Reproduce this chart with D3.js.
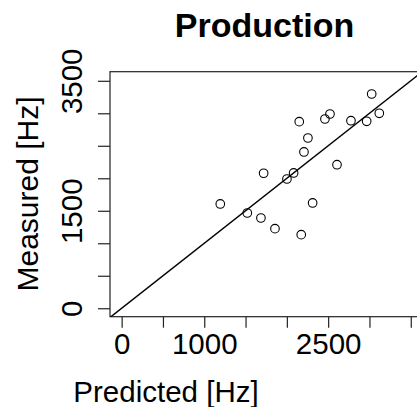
<!DOCTYPE html>
<html>
<head>
<meta charset="utf-8">
<script src="https://cdn.jsdelivr.net/npm/d3@7"></script>
<style>
  body { margin: 0; background: #fff; }
  svg { display: block; font-family: "Liberation Sans", Arial, sans-serif; }
</style>
</head>
<body>
<svg width="417" height="407"></svg>
<script>
"use strict";

// predicted vs measured, Hz
var predicted = [3027, 3119, 2522, 2461, 2150, 2776, 2966, 2255, 2207, 2607,
                 1719, 2082, 2001, 1194, 2312, 1521, 1686, 1856, 2174];
var measured  = [3297, 3000, 2989, 2912, 2871, 2886, 2877, 2620, 2405, 2209,
                 2077, 2082, 1989, 1605, 1620, 1466, 1389, 1225, 1132];

var xTicks = [0, 500, 1000, 1500, 2000, 2500, 3000, 3500];
var xTickLabels = ["0", "", "1000", "", "", "2500", "", ""];
var yTicks = [0, 500, 1000, 1500, 2000, 2500, 3000, 3500];
var yTickLabels = ["0", "", "", "1500", "", "", "", "3500"];

var svg = d3.select("svg");

var x = d3.scaleLinear().domain([-141, 3630]).range([110, 421.5]);
var y = d3.scaleLinear().domain([-130, 3640]).range([316.7, 71.7]);

// box
svg.append("rect")
    .attr("x", x(-141)).attr("y", y(3640))
    .attr("width", x(3630) - x(-141)).attr("height", y(-130) - y(3640))
    .attr("fill", "none").attr("stroke", "#222").attr("stroke-width", 1.2);

// x axis
var xAxis = d3.axisBottom(x).tickValues(xTicks).tickSize(11).tickPadding(5)
    .tickFormat(function(d, i){ return xTickLabels[i]; });
var gx = svg.append("g").attr("transform", "translate(0," + y(-130) + ")").call(xAxis);
gx.select(".domain").remove();
gx.selectAll("line").attr("stroke", "#222").attr("stroke-width", 1.2);
gx.selectAll("text").attr("font-size", 29.5).attr("fill", "#000")
    .attr("font-family", "Liberation Sans, Arial, sans-serif");

// y axis
var yAxis = d3.axisLeft(y).tickValues(yTicks).tickSize(12)
    .tickFormat(function(d, i){ return yTickLabels[i]; });
var gy = svg.append("g").attr("transform", "translate(" + x(-141) + ",0)").call(yAxis);
gy.select(".domain").remove();
gy.selectAll("line").attr("stroke", "#222").attr("stroke-width", 1.2);
gy.selectAll("text")
    .attr("font-size", 29.5).attr("fill", "#000")
    .attr("font-family", "Liberation Sans, Arial, sans-serif")
    .attr("x", null).attr("dy", null)
    .attr("text-anchor", "middle")
    .attr("transform", "translate(-28,0) rotate(-90)");

// y = x reference line
svg.append("clipPath").attr("id", "clip").append("rect")
    .attr("x", x(-141)).attr("y", y(3640))
    .attr("width", x(3630) - x(-141)).attr("height", y(-130) - y(3640));
svg.append("line")
    .attr("clip-path", "url(#clip)")
    .attr("x1", x(-141)).attr("y1", y(-141))
    .attr("x2", x(3700)).attr("y2", y(3700))
    .attr("stroke", "#000").attr("stroke-width", 1.5);

// points
svg.selectAll("circle.pt")
    .data(predicted)
    .enter().append("circle")
    .attr("class", "pt")
    .attr("cx", function(d){ return x(d); })
    .attr("cy", function(d, i){ return y(measured[i]); })
    .attr("r", 4.3)
    .attr("fill", "none").attr("stroke", "#000").attr("stroke-width", 1.1);

// titles
svg.append("text").attr("x", 264.5).attr("y", 36.7)
    .attr("text-anchor", "middle").attr("font-size", 34).attr("font-weight", "bold")
    .text("Production");
svg.append("text").attr("x", 166).attr("y", 402)
    .attr("text-anchor", "middle").attr("font-size", 29.5)
    .text("Predicted [Hz]");
svg.append("text")
    .attr("transform", "translate(37.5,194) rotate(-90)")
    .attr("text-anchor", "middle").attr("font-size", 30)
    .text("Measured [Hz]");
</script>
</body>
</html>
